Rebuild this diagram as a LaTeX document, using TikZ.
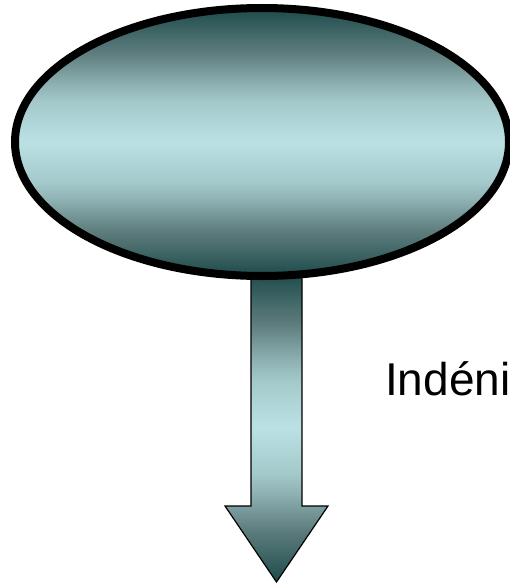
\documentclass[tikz,border=0pt]{standalone}
\usepackage{fontspec}
\setmainfont{Liberation Sans}
\usetikzlibrary{shapes.geometric, positioning, calc}
\definecolor{darkteal}{RGB}{30,74,74}
\definecolor{dimteal}{RGB}{95,126,126}
\definecolor{midteal}{RGB}{144,179,181}
\definecolor{softteal}{RGB}{164,201,203}
\definecolor{paleteal}{RGB}{187,225,228}
% dark at both ends, pale in the middle
\pgfdeclareverticalshading{tealband}{100bp}{color(0bp)=(darkteal); color(25bp)=(darkteal);
  color(33.5bp)=(dimteal); color(39.5bp)=(midteal); color(42.5bp)=(softteal);
  color(50bp)=(paleteal); color(57.5bp)=(softteal); color(60.5bp)=(midteal);
  color(66.5bp)=(dimteal); color(75bp)=(darkteal); color(100bp)=(darkteal)}

\begin{document}
\begin{tikzpicture}[x=1pt, y=-1pt,
  oval/.style={ellipse, draw=black, line width=8pt, inner sep=0pt,
    minimum width=494pt, minimum height=268pt, shading=tealband},
  arrowfill/.style={draw=black, line width=1.2pt, line join=miter, shading=tealband}]
\useasboundingbox (0,0) rectangle (510,586);
% block arrow going down from the oval
\coordinate (tip) at (276.5,582);
\shade[arrowfill] (251,272) -- (302,272) -- (302,506) -- (328,506) -- (tip)
  -- (225,506) -- (251,506) -- cycle;
% the oval on top of the arrow
\node[oval] (oval) at (262,142) {};
% label, cut off at the right edge
\node[anchor=base west, inner sep=0pt, font=\fontsize{46}{50}\selectfont] (lbl) at (385,395) {Indéni};
\end{tikzpicture}
\end{document}
